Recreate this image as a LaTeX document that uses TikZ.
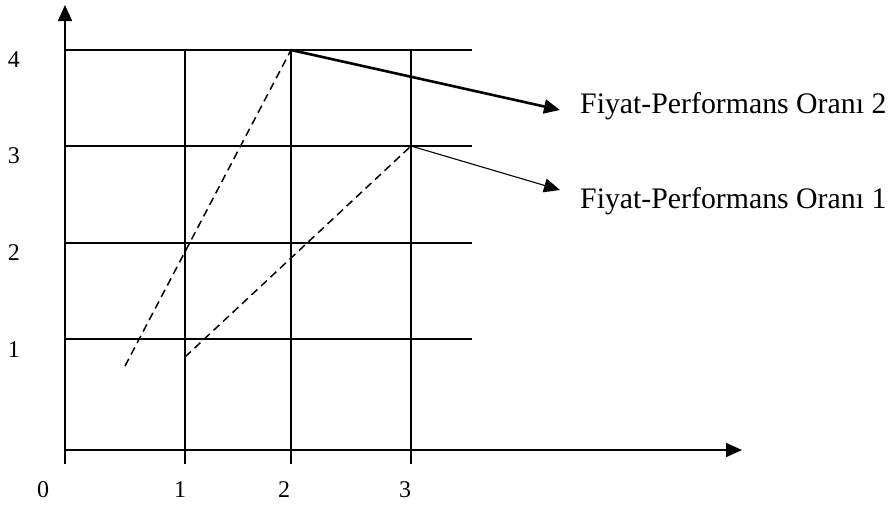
\documentclass[tikz,border=0pt]{standalone}
\usepackage{fontspec}
\setmainfont{Liberation Serif}
\usetikzlibrary{arrows.meta}
\begin{document}
\begin{tikzpicture}[
      x=1pt, y=-1pt,
      gridline/.style={line width=1.4pt},
      axisline/.style={line width=1.6pt, -{Triangle[length=16pt, width=14pt]}},
      trendline/.style={line width=1.5pt, dash pattern=on 8pt off 5pt},
      ticklab/.style={font=\fontsize{24}{28}\selectfont, inner sep=0pt, anchor=base},
      ratiolab/.style={font=\fontsize{29.8}{34}\selectfont, inner sep=0pt, anchor=base west},
      ratioarrow/.style={-{Triangle[length=16pt, width=14pt]}, line width=#1}
    ]
    \useasboundingbox (0,0) rectangle (890,506);
    % Grid
    \foreach \gx in {185,291,411}
      \draw[gridline] (\gx,50) -- (\gx,464);
    \foreach \gy in {50,146,243,339}
      \draw[gridline] (65,\gy) -- (472,\gy);
    % Axes
    \coordinate (ybot) at (65,464);
    \coordinate (ytop) at (65,5);
    \coordinate (xleft) at (65,450);
    \coordinate (xright) at (742,450);
    \draw[axisline] (ybot) -- (ytop);
    \draw[axisline] (xleft) -- (xright);
    % Tick labels
    \foreach \gy/\lab in {67/4,163/3,260/2,357/1}
      \node[ticklab] (ylab\lab) at (14,\gy) {\lab};
    \foreach \gx/\lab in {43/0,180/1,284/2,405/3}
      \node[ticklab] (xlab\lab) at (\gx,497) {\lab};
    % Ratio lines
    \coordinate (p24) at (291,50);
    \coordinate (p33) at (411,146);
    \coordinate (a0) at (125,366);
    \coordinate (b0) at (185,357);
    \draw[trendline] (a0) -- (p24);
    \draw[trendline] (b0) -- (p33);
    % Labels
    \node[ratiolab] (lab2) at (580,113) {Fiyat-Performans Oranı 2};
    \node[ratiolab] (lab1) at (580,208) {Fiyat-Performans Oranı 1};
    \coordinate (tip2) at (560,110);
    \coordinate (tip1) at (560,190);
    \draw[ratioarrow=2.6pt] (p24) -- (tip2);
    \draw[ratioarrow=1.1pt] (p33) -- (tip1);
\end{tikzpicture}
\end{document}
